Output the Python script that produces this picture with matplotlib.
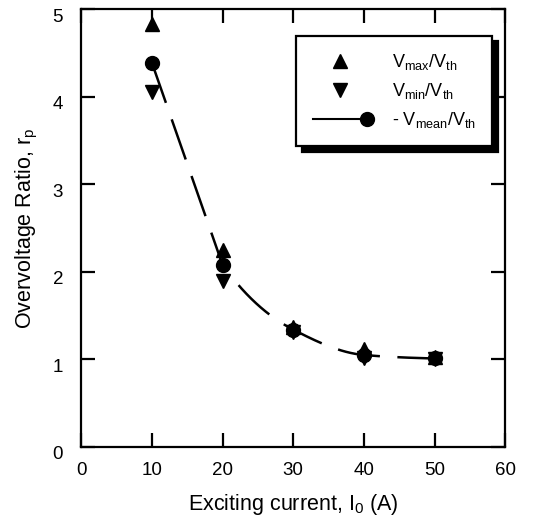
import matplotlib
matplotlib.use("Agg")
import matplotlib.pyplot as plt
import matplotlib.transforms as mtransforms
import numpy as np
from matplotlib.legend_handler import HandlerLine2D
from matplotlib.lines import Line2D

plt.rcParams["font.family"] = ["Liberation Sans", "DejaVu Sans"]
plt.rcParams["mathtext.fontset"] = "custom"
plt.rcParams["mathtext.rm"] = "Liberation Sans"
plt.rcParams["mathtext.it"] = "Liberation Sans"

# exciting current (A)
current = [10, 20, 30, 40, 50]
# overvoltage ratios
r_max = [4.83, 2.25, 1.37, 1.12, 1.03]
r_min = [4.06, 1.89, 1.31, 1.02, 1.00]
r_mean = [4.39, 2.08, 1.34, 1.05, 1.01]


class EndMarkerHandler(HandlerLine2D):
    """Legend entry: line on the left, marker at its right end."""

    def create_artists(self, legend, orig_handle, xdescent, ydescent,
                       width, height, fontsize, trans):
        artists = super().create_artists(legend, orig_handle, xdescent, ydescent,
                                         width, height, fontsize, trans)
        artists[0].set_markevery([-1])
        return artists


def guide_curve(x, y, n=60):
    """Hermite guide line through the means: straight first drop, then a
    monotone cubic decay (harmonic-mean slopes) over the remaining points."""
    x = np.asarray(x, dtype=float)
    y = np.asarray(y, dtype=float)
    d = np.diff(y) / np.diff(x)
    m = np.empty_like(y)
    m[1:-1] = 2.0 / (1.0 / d[:-1] + 1.0 / d[1:])
    m[0] = d[0]
    m[-1] = d[-1] * 0.5
    xs, ys = [], []
    for i in range(len(x) - 1):
        h = x[i + 1] - x[i]
        m0 = d[0] if i == 0 else m[i]
        m1 = d[0] if i == 0 else m[i + 1]
        t = np.linspace(0, 1, n)
        h00 = 2 * t**3 - 3 * t**2 + 1
        h10 = t**3 - 2 * t**2 + t
        h01 = -2 * t**3 + 3 * t**2
        h11 = t**3 - t**2
        xs.append(x[i] + t * h)
        ys.append(h00 * y[i] + h10 * h * m0 + h01 * y[i + 1] + h11 * h * m1)
    return np.concatenate(xs), np.concatenate(ys)


fig = plt.figure(figsize=(5.38, 5.19), dpi=100)
ax = fig.add_axes([0.151, 0.139, 0.788, 0.843])

xf, yf = guide_curve(current, r_mean)
ax.plot(xf, yf, color="black", lw=1.8, dashes=(17, 7), zorder=2)

ax.plot(current, r_max, "^", color="black", ms=10, zorder=3)
ax.plot(current, r_min, "v", color="black", ms=10, zorder=3)
ax.plot(current, r_mean, "o", color="black", ms=10, zorder=4)

ax.set_xlim(0, 60)
ax.set_ylim(0, 5)
ax.set_xticks(range(0, 61, 10))
ax.set_yticks(range(0, 6))
ax.tick_params(direction="in", length=10, width=1.6, labelsize=13.5,
               top=True, right=True)
ax.tick_params(axis="y", pad=13)
ax.tick_params(axis="x", pad=11)
for s in ax.spines.values():
    s.set_linewidth(1.6)

# y tick labels sit slightly below their ticks
shift = mtransforms.ScaledTranslation(0, -6 / 100, fig.dpi_scale_trans)
for lbl in ax.get_yticklabels():
    lbl.set_transform(lbl.get_transform() + shift)

ax.set_xlabel("Exciting current, I$_0$ (A)", fontsize=15.5, labelpad=9)
ax.set_ylabel("Overvoltage Ratio, r$_p$", fontsize=15.5, labelpad=9)

h_max = Line2D([], [], ls="none", marker="^", color="black", ms=10)
h_min = Line2D([], [], ls="none", marker="v", color="black", ms=10)
h_mean = Line2D([], [], ls="-", lw=1.5, marker="o", color="black", ms=10)
leg = ax.legend(
    [h_max, h_min, h_mean],
    [r"V$_{\mathrm{max}}$/V$_{\mathrm{th}}$",
     r"V$_{\mathrm{min}}$/V$_{\mathrm{th}}$",
     r"- V$_{\mathrm{mean}}$/V$_{\mathrm{th}}$"],
    handler_map={h_mean: EndMarkerHandler()},
    loc="upper right", bbox_to_anchor=(0.97, 0.94),
    fontsize=13, frameon=True, fancybox=False, edgecolor="black",
    shadow={"color": "black", "alpha": 1.0, "ox": 4, "oy": -4},
    handlelength=3.0, handletextpad=1.4, borderpad=0.9, labelspacing=0.5,
    borderaxespad=0,
)
leg.get_frame().set_linewidth(1.6)

fig.savefig("out.png", dpi=100)
